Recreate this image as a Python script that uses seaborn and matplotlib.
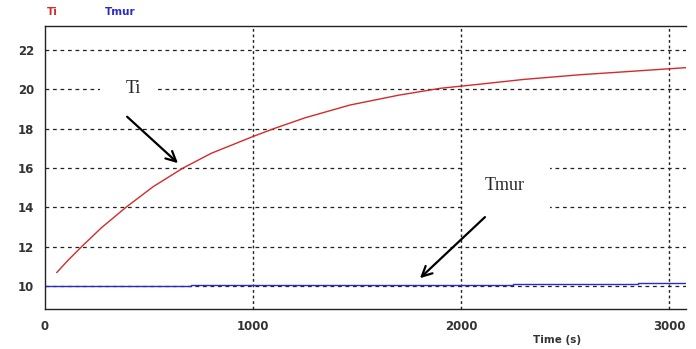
import numpy as np
import pandas as pd
import matplotlib
matplotlib.use('Agg')
import matplotlib.pyplot as plt
from matplotlib.patches import Rectangle
import seaborn as sns

sns.set_style('white')
plt.rcParams['font.family'] = ['DejaVu Sans']

# Ti (indoor temperature)
ti_time = [56, 110, 176, 270, 389, 520, 664, 800, 1000, 1100, 1250, 1466, 1700, 1900, 2091, 2300, 2572, 2800, 2995, 3082]
ti_val = [10.68, 11.3, 12.0, 12.95, 14.0, 15.05, 16.0, 16.75, 17.6, 18.0, 18.55, 19.2, 19.7, 20.05, 20.26, 20.5, 20.74, 20.9, 21.04, 21.1]

# Tmur (wall temperature)
tmur_time = [0, 700, 1590, 2250, 2850, 3082]
tmur_val = [10.0, 10.03, 10.05, 10.1, 10.15, 10.15]

xticks = [0, 1000, 2000, 3000]
yticks = [10, 12, 14, 16, 18, 20, 22]

df_ti = pd.DataFrame({'t': ti_time, 'v': ti_val})
df_tm = pd.DataFrame({'t': tmur_time, 'v': tmur_val})

fig = plt.figure(figsize=(6.96, 3.49), dpi=100)
ax = fig.add_axes([0.0647, 0.1146, 0.921, 0.811])

sns.lineplot(data=df_ti, x='t', y='v', ax=ax, color='#d42a2a', linewidth=1.0)
sns.lineplot(data=df_tm, x='t', y='v', ax=ax, color='#2a2ac8', linewidth=1.0,
             drawstyle='steps-post')

ax.set_xlim(0, 3082)
ax.set_ylim(8.83, 23.22)
ax.set_xticks(xticks)
ax.set_yticks(yticks)
ax.set_xlabel('')
ax.set_ylabel('')

# grid: dashed horizontals, dotted verticals
for yv in yticks:
    ax.axhline(yv, color='#222222', linestyle=(0, (3, 3)), linewidth=0.9, zorder=0.5)
for xv in xticks[1:]:
    ax.axvline(xv, color='#222222', linestyle=(0, (2, 2)), linewidth=1.0, zorder=0.5)

for s in ['left', 'bottom', 'top']:
    ax.spines[s].set_color('#222222')
    ax.spines[s].set_linewidth(1.0)
ax.spines['right'].set_visible(False)

ax.tick_params(length=0, pad=8, labelsize=8.5, colors='#333333')
for lab in ax.get_xticklabels() + ax.get_yticklabels():
    lab.set_fontweight('bold')

# white boxes behind the annotation labels
ax.add_patch(Rectangle((264, 19.2), 279, 1.8, facecolor='white', edgecolor='none', zorder=1))
ax.add_patch(Rectangle((2010, 13.6), 418, 3.1, facecolor='white', edgecolor='none', zorder=1))

ax.text(425, 20.05, 'Ti', family='Liberation Serif', fontsize=13, ha='center', va='center', zorder=3)
ax.text(2210, 15.1, 'Tmur', family='Liberation Serif', fontsize=13, ha='center', va='center', zorder=3)

ax.annotate('', xy=(649, 16.15), xytext=(385, 18.7),
            arrowprops=dict(arrowstyle='->', color='black', lw=1.6, mutation_scale=18), zorder=4)
ax.annotate('', xy=(1793, 10.3), xytext=(2125, 13.6),
            arrowprops=dict(arrowstyle='->', color='black', lw=1.6, mutation_scale=18), zorder=4)

# legend-like labels on top
fig.text(0.068, 0.965, 'Ti', color='#d42a2a', fontsize=7.5, fontweight='bold', va='center')
fig.text(0.151, 0.965, 'Tmur', color='#2a2ac8', fontsize=7.5, fontweight='bold', va='center')
fig.text(0.80, 0.025, 'Time (s)', color='#333333', fontsize=7.5, fontweight='bold', ha='center', va='center')

plt.savefig('out.png', dpi=100)
